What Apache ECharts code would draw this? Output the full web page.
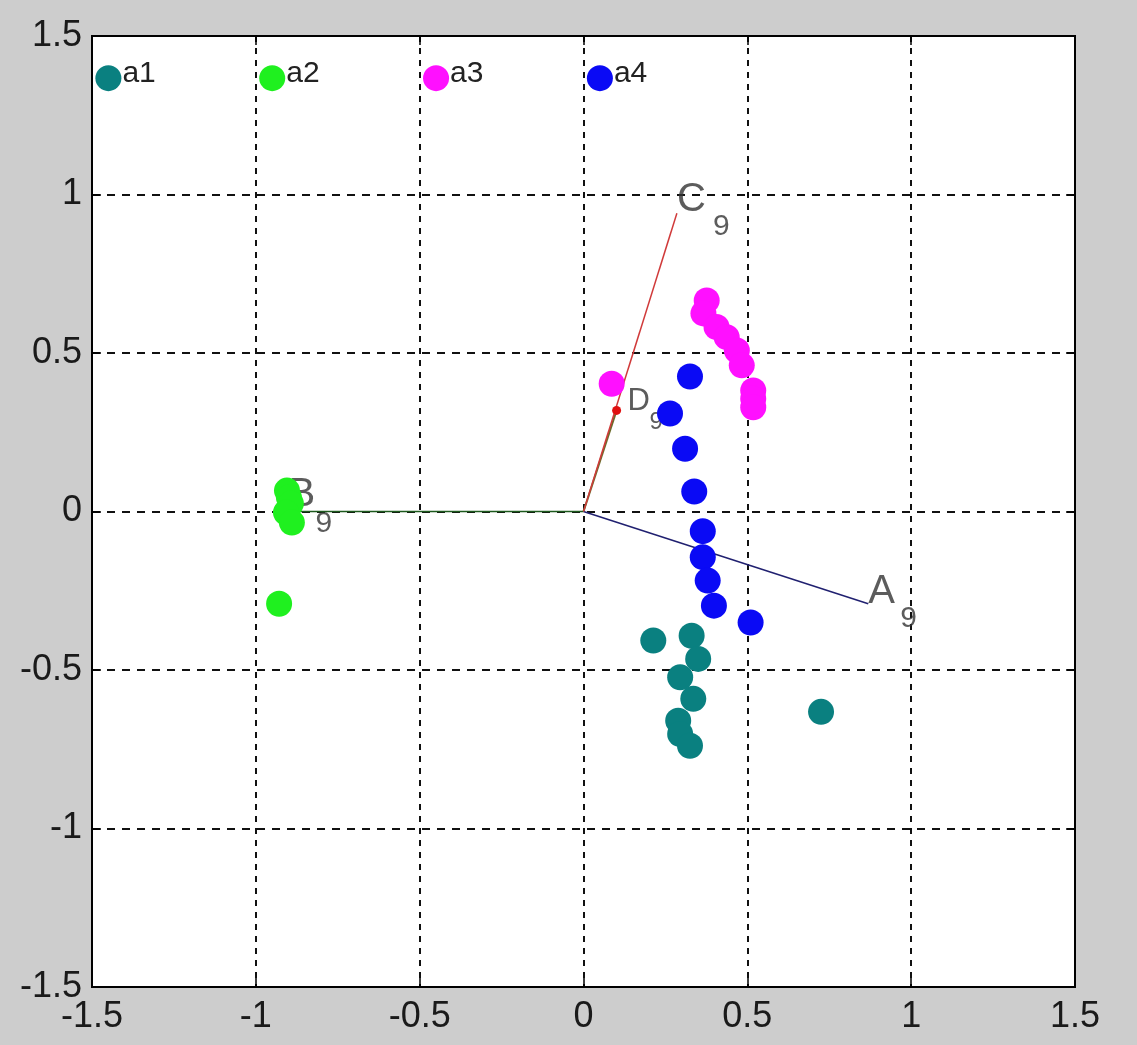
<!DOCTYPE html>
<html>
<head>
<meta charset="utf-8">
<script src="https://cdn.jsdelivr.net/npm/echarts@6/dist/echarts.min.js"></script>
<style>
  html, body { margin: 0; padding: 0; background: #cdcdcd; }
  #chart { width: 1137px; height: 1045px; }
</style>
</head>
<body>
<div id="chart"></div>
<script>
// axis ticks
const tickValues = [-1.5, -1, -0.5, 0, 0.5, 1, 1.5]
const tickLabels = ['-1.5', '-1', '-0.5', '0', '0.5', '1', '1.5']

// group keys drawn inside the plot (top row)
const groupNames = ['a1', 'a2', 'a3', 'a4']
const keyX = [-1.45, -0.95, -0.45, 0.05]
const keyY = 1.367

// points per group
const a1 = [[0.213, -0.407], [0.330, -0.392], [0.350, -0.465], [0.295, -0.523], [0.335, -0.591],
            [0.289, -0.660], [0.295, -0.702], [0.325, -0.739], [0.725, -0.632]]
const a2 = [[-0.905, 0.066], [-0.899, 0.044], [-0.893, 0.025], [-0.908, -0.003], [-0.890, -0.035],
            [-0.929, -0.291]]
const a3 = [[0.376, 0.666], [0.366, 0.625], [0.406, 0.582], [0.437, 0.550], [0.468, 0.508],
            [0.483, 0.461], [0.518, 0.382], [0.518, 0.356], [0.518, 0.329], [0.086, 0.403]]
const a4 = [[0.325, 0.426], [0.264, 0.309], [0.310, 0.198], [0.338, 0.063], [0.364, -0.062],
            [0.364, -0.144], [0.379, -0.218], [0.398, -0.297], [0.510, -0.350]]

// vectors from the origin
const vectorNames = ['A', 'B', 'C', 'D']
const vectorSub = '9'
const vectorEnds = [[0.869, -0.291], [-0.90, 0], [0.285, 0.941], [0.101, 0.319]]

const FONT = '"Liberation Sans", Arial, sans-serif'
const groupColors = ['#0a8080', '#1ff01f', '#ff10ff', '#0a0af5']
const vectorColors = ['#202070', '#1d5a1d', '#d03a3a', '#6b6b2a']
// pixel offsets of letter / subscript from each vector end
const letterOffset = [[0, -12], [0, -17], [0, -13], [11, -9]]
const subOffset = [[32, 15], [27, 12], [36, 14], [33, 12]]

const chart = echarts.init(document.getElementById('chart'), null, { renderer: 'canvas' })

const axisCommon = {
  type: 'value', min: -1.5, max: 1.5, interval: 0.5,
  axisLine: { show: true, onZero: false, lineStyle: { color: '#000', width: 2 } },
  axisTick: { show: true, inside: true, length: 9, lineStyle: { color: '#000', width: 1.5 } },
}
const fmt = v => tickLabels[tickValues.findIndex(t => Math.abs(t - v) < 1e-9)] ?? ''

const vectorLines = vectorEnds.map((e, i) => ({
  type: 'line',
  z: i === 3 ? 2 : 3,
  data: [[0, 0], e],
  symbol: 'none',
  silent: true,
  lineStyle: { color: vectorColors[i], width: i === 3 ? 2 : 1.5 },
}))

const letterSeries = {
  type: 'scatter', z: 2, symbolSize: 0, silent: true,
  data: vectorEnds.map((e, i) => ({
    value: e,
    label: {
      show: true, formatter: vectorNames[i], position: letterOffset[i],
      align: 'left', verticalAlign: 'middle',
      fontFamily: FONT, fontSize: i === 3 ? 31 : 40, color: '#333',
    },
  })),
}
const subSeries = {
  type: 'scatter', z: 2, symbolSize: 0, silent: true,
  data: vectorEnds.map((e, i) => ({
    value: e,
    label: {
      show: true, formatter: vectorSub, position: subOffset[i],
      align: 'left', verticalAlign: 'middle',
      fontFamily: FONT, fontSize: i === 3 ? 24 : 30, color: '#333',
    },
  })),
}

const groups = [a1, a2, a3, a4]
const groupSeries = groups.map((pts, i) => ({
  type: 'scatter', z: 5, name: groupNames[i],
  data: pts, symbolSize: 26,
  itemStyle: { color: groupColors[i], opacity: 1 },
}))
const keySeries = groupNames.map((n, i) => ({
  type: 'scatter', z: 5,
  data: [[keyX[i], keyY]], symbolSize: 26,
  itemStyle: { color: groupColors[i], opacity: 1 },
  label: {
    show: true, formatter: n, position: 'right', distance: 1, offset: [0, -4],
    fontFamily: FONT, fontSize: 30, color: '#222',
  },
}))

chart.setOption({
  backgroundColor: '#cdcdcd',
  animation: false,
  grid: {
    left: 92, top: 36, right: 62, bottom: 58,
    show: true, backgroundColor: '#fff', borderColor: '#000', borderWidth: 2,
  },
  xAxis: [
    {
      ...axisCommon, position: 'bottom',
      axisLabel: { formatter: fmt, margin: 12, fontFamily: FONT, fontSize: 36, color: '#1a1a1a' },
      splitLine: { show: true, lineStyle: { color: '#111', width: 2, type: [6, 6] } },
    },
    { ...axisCommon, position: 'top', axisLabel: { show: false }, splitLine: { show: false } },
  ],
  yAxis: [
    {
      ...axisCommon, position: 'left',
      axisLabel: { formatter: fmt, margin: 10, fontFamily: FONT, fontSize: 36, color: '#1a1a1a' },
      splitLine: { show: true, lineStyle: { color: '#111', width: 2, type: [8, 7] } },
    },
    { ...axisCommon, position: 'right', axisLabel: { show: false }, splitLine: { show: false } },
  ],
  series: [
    ...vectorLines,
    {
      type: 'scatter', z: 4, data: [vectorEnds[3]], symbolSize: 9, silent: true,
      itemStyle: { color: '#e01010', opacity: 1 },
    },
    letterSeries,
    subSeries,
    ...groupSeries,
    ...keySeries,
  ],
})
</script>
</body>
</html>
